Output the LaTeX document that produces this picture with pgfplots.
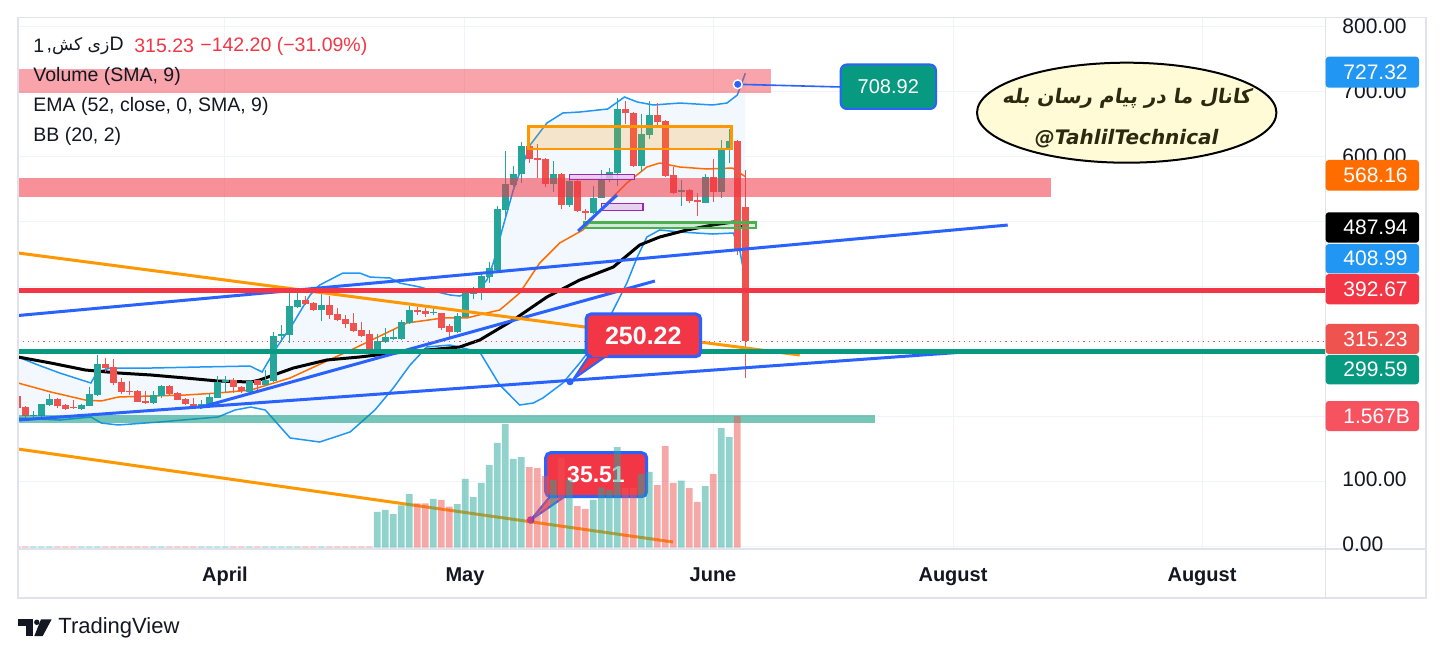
\documentclass[border=0pt]{standalone}
\usepackage{fontspec}
\setmainfont{Liberation Sans}
\newfontfamily\arabicfont[Script=Arabic]{DejaVu Sans}
\newfontfamily\ellfont[Script=Arabic,FakeSlant=0.15]{DejaVu Sans}
\newfontfamily\elllat{DejaVu Sans}
\usepackage{pgfplots}
\pgfplotsset{compat=1.18}
\usepackage{pgfplotstable}
\TeXXeTstate=1

\definecolor{txt}{HTML}{131722}
\definecolor{gridc}{HTML}{F0F3FA}
\definecolor{framec}{HTML}{E0E3EB}
\definecolor{cup}{HTML}{26A69A}
\definecolor{cdn}{HTML}{EF5350}
\definecolor{bbline}{HTML}{2196F3}
\definecolor{bbfill}{HTML}{F2F8FE}
\definecolor{basis}{HTML}{FF6D00}
\definecolor{tl}{HTML}{2962FF}
\definecolor{orn}{HTML}{FF9800}
\definecolor{hred}{HTML}{F23645}
\definecolor{hgreen}{HTML}{089981}
\definecolor{purp}{HTML}{9C27B0}
\definecolor{purpf}{HTML}{E6C8EC}
\definecolor{grn}{HTML}{4CAF50}
\definecolor{ellfill}{HTML}{FFFBD6}
\definecolor{elltxt}{HTML}{2B2A10}
\definecolor{tagblue}{HTML}{2196F3}
\definecolor{tagorange}{HTML}{FF6D00}
\definecolor{tagvol}{HTML}{F7525F}

% green candles: n open high low close
\pgfplotstableread{
n o h l c
2 200 207 195 202
3 200.5 219 199 218
4 217 234 216 226
8 211 218 210 217
9 216 244 215 234
10 232 294 231 280
17 220.5 238 218 232
18 231 247 227 246
23 214.5 225 213 218.5
24 217 235 216 230
25 228 261 227 253
26 252 261 237 255
29 237 254 236 254
31 248 271 247 255
32 254 329 252 323
33 323.5 340 314 326
34 325 394 313 369
35 368 396 366 378.5
38 363 389 346 371
45 303 326 302 315
46 314 336 312 321
47 318.5 334 317 321
48 318 348 317 345
49 343 369 342 363
52 359 367 355 360
55 329 358 328 354
56 353 394 352 389
57 388 399 380 391
58 389 422 378 415
59 414 437 405 427
60 425 523 423 518
61 517 608 507 557
62 556 585 553 573
63 572 621 559 615
67 557 592 545 572
69 525 566 522 561.5
72 513 554 511 536
73 536 578.5 535 563
74 563 581 560 575
75 574 689 554 672
78 585 665 576 634
79 632 685 626 663
83 544.6 563 523 547.7
86 528 573 527 568
88 545 625 536 610
89 610 641 590 623
}\upc

% red candles: n open high low close
\pgfplotstableread{
n o h l c
0 231 233 212 213
1 214 215 196 200
5 226 227 213 216
6 217 218 209 211
7 213 225 211 212
11 280 290 268 274
12 275 287 248 251
13 252 258 234 237
14 238 254 232 237
15 238 240 221 222
16 223 239 218 220.5
19 246 248 232 234
20 235 237 224 225
21 226 227 217 218.5
22 218.5 227 213 216
27 255 258 236 244
28 245 246 236 239
30 255 256 240 248
36 378.5 385 371 372
37 374 376 362 363
39 371 384 349 355
40 357 366 346 348
41 349 355 335 341.5
42 343.5 359 329 331
43 332 345 321 323.5
44 326 332 302 303
50 363 367 356 360.5
51 362 366 353 357
53 358 359 333 336
54 338.5 341 321 330
64 615 617 589.7 595
65 597 618.5 565.6 594
66 595 597 553 557
68 572 574 518.5 525
70 561.5 563 514 516
71 516 518.5 501.5 513
76 672 684 650 666
77 666 668 583 585
80 663 682 648 652
81 654 656 568 570
82 571 583 541 543.5
84 547.7 549 528 531
85 532 543.5 507 529
87 568 595 530 545
90 623 625 448 457.43
91 522 578 259 315.23
}\dnc

% volume (millions), green days
\pgfplotstableread{
n v
2 12
3 12
4 12
8 12
9 12
10 12
17 12
18 12
23 12
24 12
25 12
26 12
29 12
31 12
32 12
33 12
34 12
35 12
38 12
45 425
46 449
47 401
48 504
49 639
52 580
55 520
56 818
57 603
58 770
59 984
60 1246
61 1472
62 1056
63 1079
67 806
69 806
72 568
73 719
74 687
75 1198
78 877
79 901
83 797
86 734
88 1424
89 1317
}\volg

% volume (millions), red days
\pgfplotstableread{
n v
0 12
1 12
5 12
6 12
7 12
11 12
12 12
13 12
14 12
15 12
16 12
19 12
20 12
21 12
22 12
27 12
28 12
30 12
36 12
37 12
39 12
40 12
41 12
42 12
43 12
44 12
50 528
51 528
53 568
54 488
64 960
65 948
66 853
68 1067
70 496
71 461
76 710
77 710
80 746
81 1210
82 770
84 710
85 544
87 877
90 1567
}\volr

\begin{document}
\begin{tikzpicture}
\useasboundingbox (0,0) rectangle (722pt,329.5pt);
\fill[white] (0,0) rectangle (722pt,329.5pt);

% ---------------- main price axis ----------------
\begin{axis}[
  at={(9pt,55pt)}, anchor=south west, scale only axis,
  width=653.85pt, height=265.85pt,
  xmin=0.0875, xmax=163.55, ymin=-4.6, ymax=813.4,
  axis line style={draw=none},
  xtick={25.96,55.96,87.0,117.0,148.1},
  ytick={0,100,200,300,400,500,600,700,800},
  xticklabels={}, yticklabels={},
  major tick length=0pt,
  grid=major, major grid style={draw=gridc, line width=0.5pt},
  clip=true,
]
% Bollinger band fill (upper band, then lower band reversed)
\addplot[fill=bbfill, draw=none] coordinates {(0.09,290.8) (2.6,278.5) (5.3,266.2) (9.2,250.8) (10,267.7) (11.6,273.8) (16.6,273.8) (22.8,275.4) (29.1,276.9) (30.6,267.7) (32.2,301.5) (34.5,343.1) (36.6,386.2) (37.8,401.5) (40.7,420) (42.8,420) (44.1,413.8) (46.6,412.3) (47.8,404.6) (50.3,398.5) (52.5,390.8) (54.1,386.2) (55.3,384.6) (56.6,390.8) (57.8,396.9) (58.7,409.2) (59.5,435.4) (60.6,486.2) (62,547.7) (64.1,616.9) (66.2,650.8) (68.2,666.2) (70.3,667.7) (73.8,672.3) (75.9,690.8) (77.5,683.1) (79.5,678.5) (82.8,681.5) (86.9,678.5) (88.7,681.5) (90,693.8) (91,727.32)
 (91,408.99) (90.3,455.4) (89.5,481.5) (86.9,480) (82.8,483.1) (80.3,486.2) (78.7,475.4) (77.5,444.6) (76.2,404.6) (74.5,363.1) (72.5,316.9) (70.3,281.5) (68.2,250.8) (65.7,227.7) (64.5,220) (62.8,216.9) (60.3,247.7) (57.8,298.5) (54.1,309.2) (51.2,306.2) (49.1,278.5) (47,243.1) (44.7,209.2) (41.6,175.4) (37.8,160) (34.1,166.2) (31,209.2) (29.2,213.8) (27.2,209.2) (25.1,198.5) (17.8,190.8) (12.6,186.2) (10.5,189.2) (9.2,198.5) (5.3,193.8) (0.09,196.9)} --cycle;
\addplot[bbline, line width=0.75pt] coordinates {(0.09,290.8) (2.6,278.5) (5.3,266.2) (9.2,250.8) (10,267.7) (11.6,273.8) (16.6,273.8) (22.8,275.4) (29.1,276.9) (30.6,267.7) (32.2,301.5) (34.5,343.1) (36.6,386.2) (37.8,401.5) (40.7,420) (42.8,420) (44.1,413.8) (46.6,412.3) (47.8,404.6) (50.3,398.5) (52.5,390.8) (54.1,386.2) (55.3,384.6) (56.6,390.8) (57.8,396.9) (58.7,409.2) (59.5,435.4) (60.6,486.2) (62,547.7) (64.1,616.9) (66.2,650.8) (68.2,666.2) (70.3,667.7) (73.8,672.3) (75.9,690.8) (77.5,683.1) (79.5,678.5) (82.8,681.5) (86.9,678.5) (88.7,681.5) (90,693.8) (91,727.32)};
\addplot[bbline, line width=0.75pt] coordinates {(0.09,196.9) (5.3,193.8) (9.2,198.5) (10.5,189.2) (12.6,186.2) (17.8,190.8) (25.1,198.5) (27.2,209.2) (29.2,213.8) (31,209.2) (34.1,166.2) (37.8,160) (41.6,175.4) (44.7,209.2) (47,243.1) (49.1,278.5) (51.2,306.2) (54.1,309.2) (57.8,298.5) (60.3,247.7) (62.8,216.9) (64.5,220) (65.7,227.7) (68.2,250.8) (70.3,281.5) (72.5,316.9) (74.5,363.1) (76.2,404.6) (77.5,444.6) (78.7,475.4) (80.3,486.2) (82.8,483.1) (86.9,480) (89.5,481.5) (90.3,455.4) (91,408.99)};
% BB basis
\addplot[basis, line width=0.75pt] coordinates {(0.09,250.8) (4.2,236.9) (8.5,224.6) (10.5,223.1) (12.6,229.2) (16.7,230.8) (21,232.3) (25.1,235.4) (29.2,240) (34.1,258.5) (42.5,306.2) (48.7,343.1) (53.2,350.8) (56.2,350.8) (58.7,358.5) (60.3,363.1) (62.8,389.2) (65.3,435.4) (67.8,466.2) (70.7,486.2) (73.7,527.7) (76.2,558.5) (78.7,583.1) (80.3,589.2) (82.8,583.1) (86.2,580) (89.4,581.5) (91,568.16)};
% EMA 52
\addplot[black, line width=1.5pt] coordinates {(0.09,290.8) (4.2,281.5) (8.5,270.8) (12.6,266.2) (16.7,263.1) (21,258.5) (25.1,253.8) (29.2,252.3) (30.3,255.4) (34.5,273.8) (38.7,286.2) (42.8,290.8) (47,296.9) (51.2,301.5) (55.3,306.2) (57.8,316.9) (62,347.7) (66.2,383.1) (70.3,409.2) (74.5,429.2) (77.8,463.1) (80.3,475.4) (83.7,486.2) (86.9,493.8) (89.5,498.5) (91,487.94)};

% candles: wicks (low to high)
\addplot[cup, line width=0.55pt, quiver={u=0, v=\thisrow{h}-\thisrow{l}}] table[x=n, y=l] {\upc};
\addplot[cdn, line width=0.55pt, quiver={u=0, v=\thisrow{h}-\thisrow{l}}] table[x=n, y=l] {\dnc};
% candles: bodies (open to close)
\addplot[cup, line width=3.3pt, quiver={u=0, v={max(\thisrow{c}-\thisrow{o},1.3)}}] table[x=n, y=o] {\upc};
\addplot[cdn, line width=3.3pt, quiver={u=0, v={max(\thisrow{o}-\thisrow{c},1.3)}}] table[x=n, y=c] {\dnc};

% zones
\addplot[fill=hred, fill opacity=0.45, draw=none] coordinates {(0.09,696.5) (94.2,696.5) (94.2,733.8) (0.09,733.8)} --cycle;
\addplot[fill=hred, fill opacity=0.55, draw=none] coordinates {(0.09,536.5) (129.2,536.5) (129.2,565.7) (0.09,565.7)} --cycle;
\addplot[fill=hgreen, fill opacity=0.55, draw=none] coordinates {(0.09,189.7) (107.2,189.7) (107.2,202) (0.09,202)} --cycle;
\addplot[fill=orn, fill opacity=0.2, draw=orn, line width=1.3pt] coordinates {(63.9,610.8) (89.3,610.8) (89.3,645.1) (63.9,645.1)} --cycle;
\addplot[fill=purpf, fill opacity=0.8, draw=purp, line width=0.6pt] coordinates {(69.0,564.2) (77.1,564.2) (77.1,571.8) (69.0,571.8)} --cycle;
\addplot[fill=purpf, fill opacity=0.8, draw=purp, line width=0.6pt] coordinates {(73.05,516.5) (78.2,516.5) (78.2,527.2) (73.05,527.2)} --cycle;
\addplot[fill=grn, fill opacity=0.2, draw=grn, line width=1.2pt] coordinates {(70.9,488.8) (92.3,488.8) (92.3,498) (70.9,498)} --cycle;

% trend lines
\addplot[tl, line width=1.5pt] coordinates {(0.09,354.6) (123.8,493.8)};
\addplot[tl, line width=1.5pt] coordinates {(0.09,193.8) (120.1,300)};
\addplot[tl, line width=1.5pt] coordinates {(22.8,213.1) (79.7,407.7)};
\addplot[tl, line width=1.5pt] coordinates {(70.1,484.6) (74.96,540)};
\addplot[orn, line width=1.5pt] coordinates {(0.09,450.8) (97.8,293.8)};
\addplot[orn, line width=1.5pt] coordinates {(0.09,149.2) (81.96,6.2)};

% horizontal levels
\addplot[hred, line width=2.6pt] coordinates {(0,392.67) (164,392.67)};
\addplot[hgreen, line width=2.6pt] coordinates {(0,299.59) (164,299.59)};
\addplot[cdn, dotted, line width=0.6pt] coordinates {(0,315.23) (164,315.23)};

% callout connector and anchor point
\addplot[tl, line width=0.8pt] coordinates {(90.05,710.3) (102.96,706.2)};
\addplot[only marks, mark=*, mark size=2.2pt, mark options={fill=tl, draw=white, line width=0.7pt}] coordinates {(90.05,710.3)};
\end{axis}

% ---------------- pixel-based overlay ----------------
\begin{scope}[shift={(0pt,329.5pt)}, x=0.5pt, y=-0.5pt]
% callout 250.22
\filldraw[fill=hred, draw=tl, line width=1pt, line join=round] (590,354) -- (573.5,379) -- (609,354) -- cycle;
\filldraw[fill=hred, draw=tl, line width=1.5pt, rounded corners=2.5pt] (586,314) rectangle (700.7,356.7);
\fill[hred] (592,352) rectangle (608,357.5);
\fill[tl] (570,381.7) circle [radius=1.8pt];
\node[text=white, font=\bfseries\fontsize{12.5}{14}\selectfont, inner sep=0pt] at (643.3,335.5) {250.22};
% callout 35.51
\filldraw[fill=hred, fill opacity=0.75, draw=tl, line width=1pt, line join=round] (552,494) -- (530.7,520) -- (567,495) -- cycle;
\filldraw[fill=hred, draw=tl, line width=1.5pt, rounded corners=2.5pt] (545.7,452.7) rectangle (646.7,496.7);
\fill[purp!80!tl] (530.7,520) circle [radius=1.9pt];
\node[text=white, font=\bfseries\fontsize{11.5}{14}\selectfont, inner sep=0pt] at (596,474.5) {35.51};
% callout 708.92
\filldraw[fill=hgreen, draw=tl, line width=1pt, rounded corners=3pt] (840.7,64.5) rectangle (936,109);
\node[text=white, font=\fontsize{10}{12}\selectfont, inner sep=0pt] at (888.3,87) {708.92};
\end{scope}

% ---------------- volume axis ----------------
\begin{axis}[
  at={(9pt,55pt)}, anchor=south west, scale only axis,
  width=653.85pt, height=265.85pt,
  xmin=0.0875, xmax=163.55, ymin=-15.5, ymax=6312,
  axis lines=none, ybar, bar width=0.83, clip=true,
]
\addplot[fill=cup, fill opacity=0.5, draw=none, bar shift=0pt] table[x=n, y=v] {\volg};
\addplot[fill=cdn, fill opacity=0.5, draw=none, bar shift=0pt] table[x=n, y=v] {\volr};
\end{axis}

\begin{scope}[shift={(0pt,329.5pt)}, x=0.5pt, y=-0.5pt]
% frame
\draw[framec, line width=0.6pt] (18,17.3) rectangle (1426,598);
\draw[framec, line width=0.6pt] (1325.7,17.3) -- (1325.7,598);
\draw[framec, line width=0.6pt] (18,549) -- (1426,549);

% legend
\node[anchor=west, inner sep=0pt, text=txt, font=\fontsize{9.75}{12}\selectfont] at (33,46) {1};
\node[anchor=east, inner sep=0pt, text=txt, font=\fontsize{9.75}{12}\selectfont] at (124,46) {,{\arabicfont\fontsize{8.6}{12}\selectfont\beginR زی کش\endR}D};
\node[anchor=west, inner sep=0pt, text=hred, font=\fontsize{9.75}{12}\selectfont] at (134,46) {315.23};
\node[anchor=west, inner sep=0pt, text=hred, font=\fontsize{9.75}{12}\selectfont] at (200,46) {−142.20 (−31.09\%)};
\node[anchor=west, inner sep=0pt, text=txt, font=\fontsize{9.75}{12}\selectfont] at (33,76.7) {Volume (SMA, 9)};
\node[anchor=west, inner sep=0pt, text=txt, font=\fontsize{9.75}{12}\selectfont] at (33,106.7) {EMA (52, close, 0, SMA, 9)};
\node[anchor=west, inner sep=0pt, text=txt, font=\fontsize{9.75}{12}\selectfont] at (33,136.7) {BB (20, 2)};

% ellipse note
\draw[fill=ellfill, line width=1pt, draw=black] (1126.7,112.7) ellipse [x radius=74.85pt, y radius=25pt];
\node[inner sep=0pt, text=elltxt] at (1126.7,98.5) {\ellfont\bfseries\fontsize{10}{12}\selectfont\beginR کانال ما در پیام رسان بله\endR};
\node[inner sep=0pt, text=elltxt] at (1126.7,138.5) {\elllat\bfseries\itshape\fontsize{10}{12}\selectfont @TahlilTechnical};

% price scale labels
\foreach \yy/\lab in {26/800.00, 91/700.00, 156/600.00, 479/100.00, 544/0.00}
  \node[anchor=west, inner sep=0pt, text=txt, font=\fontsize{10.5}{12}\selectfont] at (1342,\yy) {\lab};

% price tags
\foreach \ya/\yb/\col/\lab in {56.7/87.7/tagblue/727.32, 160/190.7/tagorange/568.16, 212.3/242.7/black/487.94, 244/273.3/tagblue/408.99, 274/304.3/hred/392.67, 324/354/cdn/315.23, 355/384.3/hgreen/299.59, 401/431/tagvol/1.567B}{
  \fill[\col, rounded corners=1.5pt] (1325.7,\ya) rectangle (1419,\yb);
  \node[anchor=west, inner sep=0pt, text=white, font=\fontsize{10.5}{12}\selectfont] at (1343,{(\ya+\yb)/2}) {\lab};
}

% time axis labels
\foreach \xx/\lab in {225/April, 465/May, 713/June, 953/August, 1202/August}
  \node[anchor=base, inner sep=0pt, text=txt, font=\bfseries\fontsize{10}{12}\selectfont] at (\xx,581) {\lab};

% TradingView logo
\fill[txt] (17.7,619.3) rectangle (33.3,626);
\fill[txt] (26,619.3) rectangle (33.3,636);
\fill[txt] (36.8,622.3) circle [radius=1.35pt];
\fill[txt] (41,619.3) -- (51.7,619.3) -- (42.7,636) -- (34.3,636) -- cycle;
\node[anchor=west, inner sep=0pt, text=txt, font=\fontsize{11}{13}\selectfont] at (58,628.3) {TradingView};
\end{scope}
\end{tikzpicture}
\end{document}
